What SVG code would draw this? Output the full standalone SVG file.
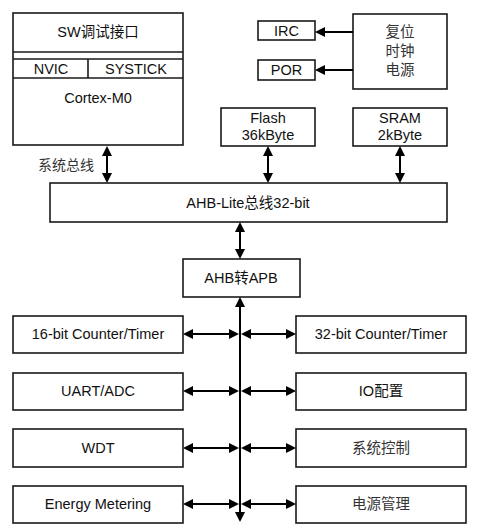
<svg xmlns="http://www.w3.org/2000/svg" width="477" height="530" viewBox="0 0 477 530">
<style>
.box{fill:#fff;stroke:#1a1a1a;stroke-width:1.6}
.ln{fill:none;stroke:#1a1a1a;stroke-width:1.6}
.t{font-family:"Liberation Sans","Noto Sans CJK SC",sans-serif;font-size:14.5px;fill:#111;text-anchor:middle;dominant-baseline:central}
.c{fill:#333}
.ar{fill:none;stroke:#000;stroke-width:2}
</style>
<defs>
<marker id="ah" markerUnits="userSpaceOnUse" markerWidth="10" markerHeight="10" refX="8" refY="5" orient="auto-start-reverse">
<path d="M0,0 L10,5 L0,10 z" fill="#000"/>
</marker>
</defs>
<rect width="477" height="530" fill="#fff"/>

<g id="cortex">
<rect class="box" x="13" y="13" width="170" height="132"/>
<line class="ln" x1="13" y1="52" x2="183" y2="52"/>
<line class="ln" x1="13" y1="59" x2="183" y2="59"/>
<line class="ln" x1="13" y1="78" x2="183" y2="78"/>
<line class="ln" x1="88" y1="59" x2="88" y2="78"/>
<text class="t" x="98" y="32">SW调试接口</text>
<text class="t" x="51" y="69">NVIC</text>
<text class="t" x="136" y="69">SYSTICK</text>
<text class="t" x="98" y="98">Cortex-M0</text>
</g>

<g id="irc"><rect class="box" x="258" y="21" width="57" height="19"/><text class="t" x="286.5" y="31">IRC</text></g>
<g id="por"><rect class="box" x="258" y="60" width="57" height="20"/><text class="t" x="286.5" y="70">POR</text></g>
<g id="power">
<rect class="box" x="353" y="14" width="94" height="75"/>
<text class="t c" x="400" y="32">复位</text>
<text class="t c" x="400" y="51">时钟</text>
<text class="t c" x="400" y="70">电源</text>
</g>

<g id="flash"><rect class="box" x="221" y="108" width="94" height="38"/><text class="t" x="268" y="118">Flash</text><text class="t" x="268" y="135">36kByte</text></g>
<g id="sram"><rect class="box" x="353" y="108" width="94" height="38"/><text class="t" x="400" y="118">SRAM</text><text class="t" x="400" y="135">2kByte</text></g>

<g id="ahb"><rect class="box" x="50" y="183" width="397" height="39"/><text class="t" x="248" y="203">AHB-Lite总线32-bit</text></g>
<g id="bridge"><rect class="box" x="183" y="259" width="117" height="38"/><text class="t" x="241" y="278">AHB转APB</text></g>

<g id="l1"><rect class="box" x="13" y="316" width="170" height="37"/><text class="t" x="98" y="334">16-bit Counter/Timer</text></g>
<g id="l2"><rect class="box" x="13" y="373" width="170" height="37"/><text class="t" x="98" y="391">UART/ADC</text></g>
<g id="l3"><rect class="box" x="13" y="429" width="170" height="38"/><text class="t" x="98" y="448">WDT</text></g>
<g id="l4"><rect class="box" x="13" y="486" width="170" height="37"/><text class="t" x="98" y="504">Energy Metering</text></g>
<g id="r1"><rect class="box" x="296" y="316" width="170" height="37"/><text class="t" x="381" y="334">32-bit Counter/Timer</text></g>
<g id="r2"><rect class="box" x="296" y="373" width="170" height="37"/><text class="t" x="381" y="391">IO配置</text></g>
<g id="r3"><rect class="box" x="296" y="429" width="170" height="38"/><text class="t c" x="381" y="448">系统控制</text></g>
<g id="r4"><rect class="box" x="296" y="486" width="170" height="37"/><text class="t c" x="381" y="504">电源管理</text></g>

<g id="connectors">
<line class="ar" x1="353" y1="32" x2="317" y2="32" marker-end="url(#ah)"/>
<line class="ar" x1="353" y1="70" x2="317" y2="70" marker-end="url(#ah)"/>
<line class="ar" x1="107" y1="148" x2="107" y2="181" marker-start="url(#ah)" marker-end="url(#ah)"/>
<line class="ar" x1="268" y1="148" x2="268" y2="181" marker-start="url(#ah)" marker-end="url(#ah)"/>
<line class="ar" x1="400" y1="148" x2="400" y2="181" marker-start="url(#ah)" marker-end="url(#ah)"/>
<line class="ar" x1="240" y1="224" x2="240" y2="257" marker-start="url(#ah)" marker-end="url(#ah)"/>
<line class="ar" x1="240" y1="299" x2="240" y2="520" marker-start="url(#ah)" marker-end="url(#ah)"/>
<line class="ar" x1="185" y1="334" x2="237" y2="334" marker-start="url(#ah)" marker-end="url(#ah)"/>
<line class="ar" x1="243" y1="334" x2="294" y2="334" marker-start="url(#ah)" marker-end="url(#ah)"/>
<line class="ar" x1="185" y1="391" x2="237" y2="391" marker-start="url(#ah)" marker-end="url(#ah)"/>
<line class="ar" x1="243" y1="391" x2="294" y2="391" marker-start="url(#ah)" marker-end="url(#ah)"/>
<line class="ar" x1="185" y1="448" x2="237" y2="448" marker-start="url(#ah)" marker-end="url(#ah)"/>
<line class="ar" x1="243" y1="448" x2="294" y2="448" marker-start="url(#ah)" marker-end="url(#ah)"/>
<line class="ar" x1="185" y1="504" x2="237" y2="504" marker-start="url(#ah)" marker-end="url(#ah)"/>
<line class="ar" x1="243" y1="504" x2="294" y2="504" marker-start="url(#ah)" marker-end="url(#ah)"/>
<text class="t c" x="66" y="165" style="font-size:14px">系统总线</text>
</g>
</svg>
